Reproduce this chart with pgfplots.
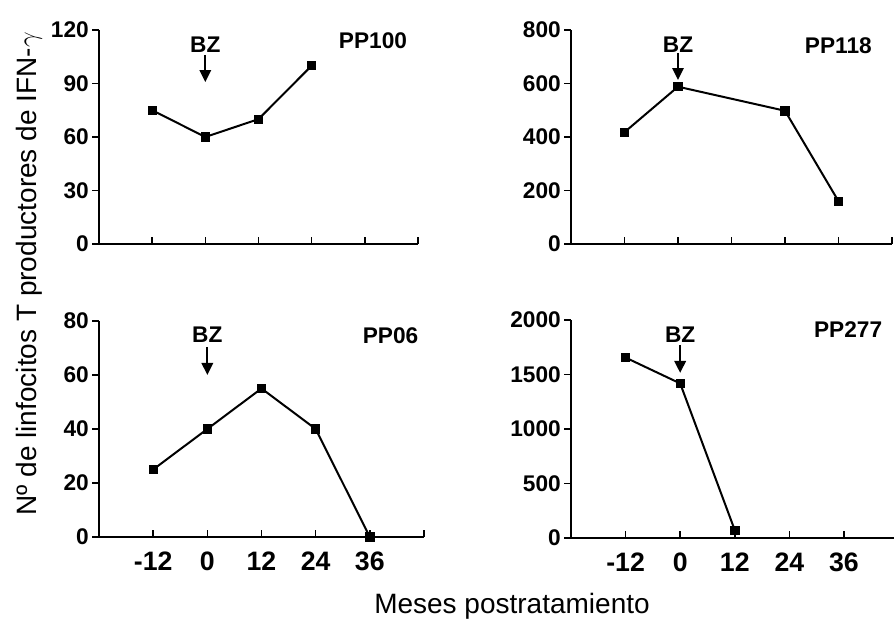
\documentclass[border=0pt]{standalone}
\usepackage{fontspec}
\setmainfont{Liberation Sans}
\usepackage{pgfplots}
\pgfplotsset{compat=1.18}
\usetikzlibrary{arrows.meta}

\pgfplotsset{
  panel/.style={
    scale only axis,
    anchor=south west,
    clip=false,
    axis x line*=bottom,
    axis y line*=left,
    axis line style={line width=1.4pt,-},
    xmin=-24, xmax=48,
    xtick={-12,0,12,24,36,48},
    ymin=0,
    xtick align=inside,
    ytick align=outside,
    major tick length=5pt,
    every tick/.style={black,line width=1.2pt},
    tick label style={inner sep=0pt},
    yticklabel style={font=\fontsize{17}{17}\selectfont\bfseries},
    xticklabel style={font=\fontsize{20}{20}\selectfont\bfseries},
    yticklabel shift=2.5pt,
    xticklabel shift=11pt,
  },
  series/.style={black, line width=1.5pt, mark=square*, mark size=3.1pt,
    mark options={solid, line width=0.6pt}},
}
\tikzset{
  bz/.style={font=\fontsize{17}{17}\selectfont\bfseries, inner sep=0pt},
  pp/.style={font=\fontsize{17}{17}\selectfont\bfseries, inner sep=0pt},
  bzarrow/.style={line width=1.6pt, -{Triangle[length=9pt,width=8.5pt]}},
}

\begin{document}
\begin{tikzpicture}
\useasboundingbox (0,0) rectangle (670.5pt,465pt);

% PP100
\begin{axis}[panel, at={(74.25pt,282pt)}, width=239.25pt, height=160.5pt,
  ymax=120, ytick={0,30,60,90,120}, yticklabels={0,30,60,90,120},
  xticklabels={,,,,,}]
\addplot[series] coordinates {(-12,75) (0,60) (12,70) (24,100)};
\node[bz] at (axis cs:0,111.6) {BZ};
\draw[bzarrow] (axis cs:0,106) -- (axis cs:0,90.8);
\node[pp] at (rel axis cs:0.859,0.949) {PP100};
\end{axis}

% PP118
\begin{axis}[panel, at={(428.25pt,282pt)}, width=240.75pt, height=160.5pt,
  ymax=800, ytick={0,200,400,600,800}, yticklabels={0,200,400,600,800},
  xticklabels={,,,,,}]
\addplot[series] coordinates {(-12,418) (0,588) (24,498) (36,160)};
\node[bz] at (axis cs:0,744) {BZ};
\draw[bzarrow] (axis cs:0,714) -- (axis cs:0,613);
\node[pp] at (rel axis cs:0.833,0.928) {PP118};
\end{axis}

% PP06
\begin{axis}[panel, at={(74.25pt,62.25pt)}, width=243.75pt, height=162pt,
  ymax=80, ytick={0,20,40,60,80}, yticklabels={0,20,40,60,80},
  xticklabels={-12,0,12,24,36,{}}]
\addplot[series] coordinates {(-12,25) (0,40) (12,55) (24,40) (36,0)};
\node[bz] at (axis cs:0,74.8) {BZ};
\draw[bzarrow] (axis cs:0,70.4) -- (axis cs:0,60);
\node[pp] at (rel axis cs:0.897,0.931) {PP06};
\end{axis}

% PP277
\begin{axis}[panel, at={(428.25pt,61.5pt)}, width=242.25pt, height=163.5pt,
  xmax=47, xtick={-12,0,12,24,36},
  ymax=2000, ytick={0,500,1000,1500,2000}, yticklabels={0,500,1000,1500,2000},
  xticklabels={-12,0,12,24,36}]
\addplot[series] coordinates {(-12,1655) (0,1418) (12,72)};
\node[bz] at (axis cs:0,1867) {BZ};
\draw[bzarrow] (axis cs:0,1771) -- (axis cs:0,1514);
\node[pp] at (rel axis cs:0.858,0.956) {PP277};
\end{axis}

\node[rotate=90, font=\fontsize{21}{21}\selectfont] at (22pt,259.5pt)
  {Nº de linfocitos T productores de IFN-$\gamma$};
\node[anchor=base, font=\fontsize{21}{21}\selectfont, inner sep=0pt] at (384pt,4.5pt)
  {Meses postratamiento};
\end{tikzpicture}
\end{document}
